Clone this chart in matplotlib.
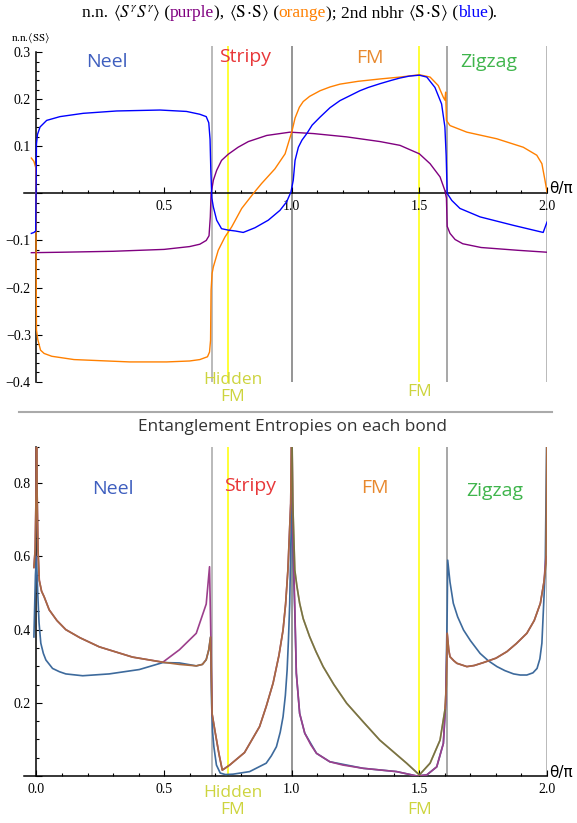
import matplotlib
matplotlib.use('Agg')
import matplotlib.pyplot as plt
from matplotlib.ticker import MultipleLocator, FuncFormatter
from matplotlib.offsetbox import TextArea, HPacker, AnnotationBbox
from matplotlib.lines import Line2D

plt.rcParams['mathtext.fontset'] = 'stix'

# ---- top panel: (theta/pi, value) ----
purple_top = [(-0.02, -0.126), (0.1, -0.125), (0.2, -0.124), (0.3, -0.123), (0.4, -0.121),
              (0.5, -0.119), (0.6, -0.113), (0.64, -0.108), (0.665, -0.100), (0.676, -0.090),
              (0.681, -0.05), (0.684, -0.001), (0.693, 0.028), (0.706, 0.049), (0.725, 0.07),
              (0.751, 0.083), (0.79, 0.098), (0.83, 0.110), (0.902, 0.123), (0.993, 0.130),
              (1.085, 0.127), (1.215, 0.120), (1.346, 0.110), (1.424, 0.102), (1.5, 0.084),
              (1.542, 0.063), (1.581, 0.035), (1.6, 0.006), (1.606, -0.010), (1.609, -0.07),
              (1.62, -0.085), (1.64, -0.098), (1.67, -0.107), (1.742, -0.115), (1.888, -0.121),
              (2.0, -0.125)]

orange_top = [(-0.02, 0.075), (-0.01, 0.068), (-0.003, 0.055), (0.0, -0.29), (0.005, -0.31),
              (0.016, -0.333), (0.03, -0.34), (0.06, -0.346), (0.147, -0.353), (0.365, -0.358),
              (0.51, -0.358), (0.6, -0.356), (0.64, -0.353), (0.67, -0.347), (0.678, -0.337),
              (0.682, -0.312), (0.684, -0.206), (0.688, -0.17), (0.693, -0.156), (0.712, -0.121),
              (0.738, -0.093), (0.765, -0.071), (0.804, -0.032), (0.85, 0.0), (0.882, 0.021),
              (0.934, 0.052), (0.974, 0.084), (0.993, 0.118), (1.0, 0.13), (1.013, 0.160),
              (1.03, 0.183), (1.045, 0.195), (1.07, 0.206), (1.111, 0.218), (1.15, 0.226),
              (1.189, 0.232), (1.26, 0.238), (1.346, 0.243), (1.424, 0.247), (1.5, 0.252),
              (1.542, 0.247), (1.574, 0.229), (1.594, 0.204), (1.6, 0.198), (1.603, 0.215),
              (1.606, 0.155), (1.62, 0.144), (1.686, 0.13), (1.803, 0.116), (1.907, 0.098),
              (1.96, 0.081), (1.98, 0.063), (1.992, 0.028), (2.0, 0.003)]

blue_top = [(-0.02, -0.085), (-0.01, -0.083), (-0.003, -0.080), (0.0, 0.105), (0.004, 0.125),
            (0.014, 0.141), (0.04, 0.155), (0.092, 0.163), (0.183, 0.170), (0.314, 0.175),
            (0.484, 0.177), (0.588, 0.174), (0.64, 0.168), (0.665, 0.163), (0.675, 0.150),
            (0.68, 0.115), (0.683, 0.05), (0.687, -0.01), (0.693, -0.029), (0.706, -0.057),
            (0.725, -0.075), (0.751, -0.078), (0.78, -0.080), (0.81, -0.083), (0.856, -0.073),
            (0.908, -0.057), (0.954, -0.036), (0.98, -0.018), (0.997, 0.003), (1.006, 0.028),
            (1.013, 0.07), (1.026, 0.098), (1.04, 0.113), (1.059, 0.127), (1.08, 0.145),
            (1.111, 0.162), (1.15, 0.182), (1.189, 0.197), (1.23, 0.208), (1.267, 0.218),
            (1.3, 0.225), (1.346, 0.233), (1.39, 0.240), (1.424, 0.245), (1.46, 0.249),
            (1.5, 0.251), (1.529, 0.247), (1.561, 0.225), (1.587, 0.19), (1.6, 0.141),
            (1.605, 0.08), (1.609, 0.0), (1.627, -0.015), (1.659, -0.032), (1.738, -0.05),
            (1.869, -0.068), (1.985, -0.083), (2.0, -0.061)]

# ---- bottom panel: entanglement entropies ----
brown = [(-0.01, 0.57), (-0.005, 0.62), (-0.001, 0.80), (0.0, 1.0), (0.002, 0.80), (0.006, 0.62),
         (0.011, 0.535), (0.02, 0.505), (0.03, 0.49), (0.05, 0.454), (0.08, 0.425), (0.115, 0.40),
         (0.17, 0.378), (0.246, 0.353), (0.376, 0.325), (0.495, 0.311), (0.56, 0.305),
         (0.626, 0.301), (0.65, 0.305), (0.665, 0.318), (0.675, 0.345), (0.682, 0.38),
         (0.688, 0.17), (0.7, 0.12), (0.715, 0.06), (0.728, 0.016), (0.757, 0.03), (0.815, 0.064),
         (0.874, 0.135), (0.9, 0.19), (0.927, 0.254), (0.95, 0.33), (0.966, 0.399), (0.976, 0.47),
         (0.985, 0.563), (0.996, 0.745), (1.0, 1.0), (1.004, 0.75), (1.012, 0.563), (1.02, 0.52),
         (1.031, 0.472), (1.045, 0.43), (1.07, 0.381), (1.095, 0.34), (1.123, 0.299),
         (1.165, 0.25), (1.215, 0.199), (1.28, 0.148), (1.345, 0.098), (1.4, 0.065), (1.45, 0.035),
         (1.5, 0.003), (1.542, 0.035), (1.581, 0.098), (1.6, 0.18), (1.606, 0.25), (1.609, 0.39),
         (1.615, 0.345), (1.62, 0.326), (1.635, 0.315), (1.647, 0.308), (1.686, 0.299),
         (1.715, 0.302), (1.751, 0.31), (1.8, 0.322), (1.843, 0.34), (1.88, 0.362), (1.921, 0.39),
         (1.95, 0.425), (1.974, 0.472), (1.988, 0.53), (1.996, 0.581), (2.0, 1.0)]

purple = [(-0.01, 0.57), (-0.005, 0.62), (-0.001, 0.80), (0.0, 1.0), (0.002, 0.80), (0.006, 0.62),
          (0.011, 0.535), (0.02, 0.505), (0.03, 0.49), (0.05, 0.454), (0.08, 0.425), (0.115, 0.40),
          (0.17, 0.378), (0.246, 0.353), (0.376, 0.325), (0.495, 0.311), (0.56, 0.345),
          (0.626, 0.39), (0.665, 0.47), (0.678, 0.572), (0.684, 0.35), (0.688, 0.17), (0.7, 0.12),
          (0.715, 0.06), (0.728, 0.016), (0.757, 0.03), (0.815, 0.064), (0.874, 0.135),
          (0.9, 0.19), (0.927, 0.254), (0.95, 0.33), (0.966, 0.399), (0.976, 0.47), (0.985, 0.563),
          (0.996, 0.745), (1.0, 1.0), (1.005, 0.645), (1.012, 0.463), (1.018, 0.281),
          (1.031, 0.171), (1.051, 0.117), (1.075, 0.085), (1.097, 0.062), (1.149, 0.039),
          (1.2, 0.03), (1.28, 0.021), (1.411, 0.012), (1.49, 0.0), (1.529, 0.003), (1.568, 0.025),
          (1.594, 0.089), (1.603, 0.2), (1.609, 0.39), (1.615, 0.345), (1.62, 0.326),
          (1.635, 0.315), (1.647, 0.308), (1.686, 0.299), (1.715, 0.302), (1.751, 0.31),
          (1.8, 0.322), (1.843, 0.34), (1.88, 0.362), (1.921, 0.39), (1.95, 0.425), (1.974, 0.472),
          (1.988, 0.53), (1.996, 0.6)]

blue = [(-0.01, 0.38), (-0.004, 0.55), (0.0, 0.6), (0.005, 0.5), (0.01, 0.42), (0.017, 0.363),
        (0.027, 0.335), (0.037, 0.317), (0.063, 0.294), (0.09, 0.285), (0.115, 0.279),
        (0.181, 0.274), (0.285, 0.279), (0.403, 0.291), (0.495, 0.31), (0.56, 0.309),
        (0.626, 0.301), (0.65, 0.305), (0.665, 0.318), (0.675, 0.345), (0.682, 0.38), (0.686, 0.2),
        (0.69, 0.12), (0.695, 0.08), (0.705, 0.03), (0.72, 0.008), (0.74, 0.004), (0.77, 0.005),
        (0.835, 0.012), (0.9, 0.035), (0.92, 0.055), (0.94, 0.08), (0.955, 0.12), (0.966, 0.162),
        (0.975, 0.22), (0.982, 0.29), (0.987, 0.37), (0.992, 0.47), (1.0, 0.76), (1.005, 0.6),
        (1.012, 0.45), (1.018, 0.281), (1.031, 0.171), (1.051, 0.117), (1.097, 0.062),
        (1.149, 0.039), (1.28, 0.021), (1.411, 0.012), (1.49, 0.0), (1.529, 0.003),
        (1.568, 0.025), (1.594, 0.089), (1.603, 0.2), (1.609, 0.45), (1.611, 0.59),
        (1.62, 0.53), (1.633, 0.472), (1.65, 0.435), (1.673, 0.399), (1.7, 0.37), (1.738, 0.335),
        (1.77, 0.315), (1.804, 0.299), (1.835, 0.288), (1.869, 0.279), (1.895, 0.276),
        (1.921, 0.276), (1.945, 0.282), (1.961, 0.294), (1.972, 0.32), (1.98, 0.363),
        (1.993, 0.563), (2.0, 1.0)]

green = [(1.0, 1.0), (1.004, 0.75), (1.012, 0.563), (1.02, 0.52), (1.031, 0.472), (1.045, 0.43),
         (1.07, 0.381), (1.095, 0.34), (1.123, 0.299), (1.165, 0.25), (1.215, 0.199),
         (1.28, 0.148), (1.345, 0.098), (1.4, 0.065), (1.45, 0.035), (1.5, 0.003), (1.542, 0.035),
         (1.581, 0.098), (1.6, 0.18)]

transitions = [0.687, 1.0, 1.607, 2.0]
trans_colors = ['#b4b4b4', '#8c8c8c', '#a0a0a0', '#b4b4b4']
special_pts = [0.75, 1.5]

phases = ['Neel', 'Stripy', 'FM', 'Zigzag']
phase_colors = ['#3f5fbf', '#e8383a', '#e8892e', '#3fb54c']
hidden_col = '#cdd43e'

W, H = 577, 823
fig = plt.figure(figsize=(W / 100, H / 100), dpi=100)


def box(l, t, r, b):
    return [l / W, 1 - b / H, (r - l) / W, (b - t) / H]


def lab(v, p):
    if abs(v) < 1e-9:
        return ''
    return f'{v:.1f}'.replace('-', '\u2212')


def curve(ax, pts, **kw):
    xs = [p[0] for p in pts]
    ys = [p[1] for p in pts]
    ax.plot(xs, ys, solid_joinstyle='round', **kw)


ax1 = fig.add_axes(box(23.7, 46, 547, 381.7))
ax2 = fig.add_axes(box(23.7, 446.7, 547, 776))
ax1.set_ylim(-0.4, 0.313)
ax2.set_ylim(0, 0.9)

for ax in (ax1, ax2):
    ax.set_xlim(-0.05, 2.0)
    ax.patch.set_alpha(0)
    ax.spines['left'].set_position(('data', 0))
    ax.spines['bottom'].set_position(('data', 0))
    ax.spines[['top', 'right']].set_visible(False)
    ax.spines[['left', 'bottom']].set_linewidth(1.1)
    ax.xaxis.set_major_locator(MultipleLocator(0.5))
    ax.xaxis.set_minor_locator(MultipleLocator(0.1))
    ax.tick_params(which='both', direction='in', width=0.8, labelsize=10,
                   labelfontfamily='Liberation Serif')
    ax.tick_params(which='major', length=4)
    ax.tick_params(which='minor', length=2.2)
    ax.tick_params(axis='y', pad=4)
    ax.tick_params(axis='x', pad=5)
    ax.yaxis.set_major_formatter(FuncFormatter(lab))
    for x, c in zip(transitions, trans_colors):
        ax.axvline(x, color=c, lw=1.3, zorder=1)
    for x in special_pts:
        ax.axvline(x, color='#ffff00', lw=1.1, zorder=1)

ax1.spines['left'].set_bounds(-0.4, 0.3)
ax1.yaxis.set_major_locator(MultipleLocator(0.1))
ax1.yaxis.set_minor_locator(MultipleLocator(0.02))
ax1.xaxis.set_major_formatter(FuncFormatter(lab))

ax2.spines['left'].set_bounds(0, 0.9)
ax2.yaxis.set_major_locator(MultipleLocator(0.2))
ax2.yaxis.set_minor_locator(MultipleLocator(0.05))
ax2.xaxis.set_major_formatter(FuncFormatter(lambda v, p: f'{v:.1f}'))

curve(ax1, purple_top, color='#800080', lw=1.0, zorder=3)
curve(ax1, orange_top, color='#ff8000', lw=1.0, zorder=3)
curve(ax1, blue_top, color='#0000ff', lw=1.0, zorder=3)

curve(ax2, blue, color='#3d6a9c', lw=1.2, zorder=3)
curve(ax2, purple, color='#9c3f8c', lw=1.2, zorder=3)
curve(ax2, brown, color='#a86a40', lw=1.2, zorder=3)
curve(ax2, green, color='#4f7d45', lw=1.2, alpha=0.55, zorder=3)

# phase labels
top_pos = [(0.276, 0.28), (0.817, 0.289), (1.307, 0.287), (1.773, 0.278)]
bot_pos = [(0.301, 0.784), (0.838, 0.792), (1.326, 0.787), (1.797, 0.779)]
for name, c, p1, p2 in zip(phases, phase_colors, top_pos, bot_pos):
    ax1.text(p1[0], p1[1], name, color=c, fontsize=14, family='Open Sans',
             ha='center', va='center')
    ax2.text(p2[0], p2[1], name, color=c, fontsize=14, family='Open Sans',
             ha='center', va='center')

ax1.text(0.77, -0.38, 'Hidden\nFM', color=hidden_col, fontsize=12.5, family='Open Sans',
         ha='center', va='top', linespacing=1.1, clip_on=False)
ax1.text(1.5, -0.405, 'FM', color=hidden_col, fontsize=12.5, family='Open Sans',
         ha='center', va='top', clip_on=False)
ax2.text(0.77, -0.025, 'Hidden\nFM', color=hidden_col, fontsize=12.5, family='Open Sans',
         ha='center', va='top', linespacing=1.1, clip_on=False)
ax2.text(1.5, -0.07, 'FM', color=hidden_col, fontsize=12.5, family='Open Sans',
         ha='center', va='top', clip_on=False)

for py in (189, 773):
    fig.text(549 / W, 1 - py / H, '\u03b8/\u03c0', fontsize=11, family='DejaVu Sans',
             ha='left', va='center')

# titles
pieces = [('n.n. ', 'black'), (r'$\langle S^{\gamma}S^{\gamma}\rangle$', 'black'), (' (', 'black'),
          ('purple', '#800080'), ('), ', 'black'), (r'$\langle\mathrm{S\!\cdot\! S}\rangle$', 'black'),
          (' (', 'black'), ('orange', '#ff8000'), ('); 2nd nbhr ', 'black'),
          (r'$\langle\mathrm{S\!\cdot\! S}\rangle$', 'black'), (' (', 'black'), ('blue', '#0000ff'),
          (').', 'black')]
areas = [TextArea(s, textprops=dict(color=c, fontsize=12.5, family='Liberation Serif'))
         for s, c in pieces]
pack = HPacker(children=areas, align='baseline', pad=0, sep=0)
fig.add_artist(AnnotationBbox(pack, (290, H - 13), xycoords='figure pixels', frameon=False,
                              box_alignment=(0.5, 0.5)))

fig.text(11 / W, 1 - 38 / H, r'n.n.$\langle\mathrm{SS}\rangle$', fontsize=8,
         family='Liberation Serif', ha='left', va='center')

fig.add_artist(Line2D([19 / W, 552 / W], [1 - 411.5 / H] * 2, color='#aaaaaa', lw=1.5))
fig.text(293 / W, 1 - 427 / H, 'Entanglement Entropies on each bond', fontsize=12.4,
         family='Open Sans', color='#333333', ha='center', va='center')

fig.savefig('out.png', dpi=100)
